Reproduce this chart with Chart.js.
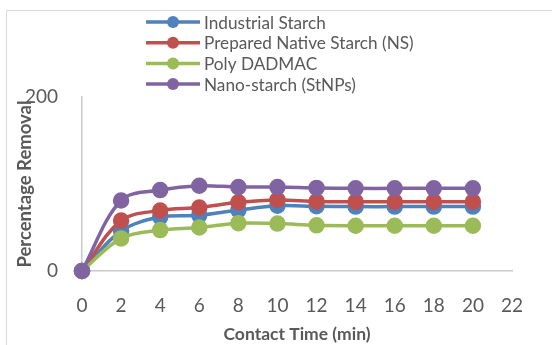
<!DOCTYPE html>
<html>
<head>
<meta charset="utf-8">
<script src="https://cdn.jsdelivr.net/npm/chart.js@4.4.1/dist/chart.umd.min.js"></script>
<style>
  html, body { margin: 0; padding: 0; background: #ffffff; }
  #wrap { width: 552px; height: 345px; position: relative; }
</style>
</head>
<body>
<div id="wrap"><canvas id="c" width="552" height="345"></canvas></div>
<script>
// Contact time (min)
const times = [0, 2, 4, 6, 8, 10, 12, 14, 16, 18, 20];
// Percentage removal per adsorbent
const industrialStarch = [0, 46, 62, 64, 70, 75, 74.4, 74, 74, 74, 74];
const nativeStarch     = [0, 58, 69.5, 73, 79, 81.7, 80, 79.7, 79.7, 79.7, 79.7];
const polyDadmac       = [0, 37.5, 47, 50, 55, 54.5, 52.5, 52, 52, 52, 52];
const nanoStarch       = [0, 81, 93, 98, 96.5, 96.5, 95.5, 95, 95, 95, 95];
const seriesNames = ['Industrial Starch', 'Prepared Native Starch (NS)', 'Poly DADMAC', 'Nano-starch (StNPs)'];
const yTicks = [0, 200];

const colors = ['#4F81BD', '#C0504D', '#9BBB59', '#8064A2'];
const drawOrder = [3, 2, 1, 0]; // later series are painted on top
const textColor = '#595959';
const fontFamily = 'Lato, "Open Sans", sans-serif';

const toPoints = arr => arr.map((v, i) => ({ x: times[i], y: v }));
const allSeries = [industrialStarch, nativeStarch, polyDadmac, nanoStarch];

const datasets = allSeries.map((s, i) => ({
  label: seriesNames[i],
  data: toPoints(s),
  borderColor: colors[i],
  backgroundColor: colors[i],
  pointBackgroundColor: colors[i],
  pointBorderColor: colors[i],
  borderWidth: 3.5,
  pointRadius: 6.5,
  pointHoverRadius: 6.5,
  tension: 0.35,
  clip: false,
  order: drawOrder[i]
}));

// Outer frame around the chart
const framePlugin = {
  id: 'frame',
  beforeDraw(chart) {
    const ctx = chart.ctx;
    ctx.save();
    ctx.strokeStyle = '#d9d9d9';
    ctx.lineWidth = 1;
    ctx.strokeRect(6.5, 10.5, chart.width + 10, chart.height + 10);
    ctx.restore();
  }
};

// Stacked legend: line with marker, then the series name
const lineLegend = {
  id: 'lineLegend',
  afterDraw(chart) {
    const ctx = chart.ctx;
    ctx.save();
    const x0 = 146, lineLen = 54, y0 = 22, rowH = 20.7;
    chart.data.datasets.forEach((ds, i) => {
      const y = y0 + i * rowH;
      ctx.strokeStyle = ds.borderColor;
      ctx.lineWidth = 3.5;
      ctx.beginPath();
      ctx.moveTo(x0, y);
      ctx.lineTo(x0 + lineLen, y);
      ctx.stroke();
      ctx.fillStyle = ds.borderColor;
      ctx.beginPath();
      ctx.arc(x0 + lineLen / 2, y, 6, 0, Math.PI * 2);
      ctx.fill();
      ctx.fillStyle = textColor;
      ctx.font = '17.2px ' + fontFamily;
      ctx.textBaseline = 'middle';
      ctx.textAlign = 'left';
      ctx.fillText(ds.label, x0 + lineLen + 4, y + 1);
    });
    ctx.restore();
  }
};

new Chart(document.getElementById('c'), {
  type: 'line',
  data: { datasets },
  options: {
    responsive: false,
    animation: false,
    events: [],
    layout: { padding: { top: 97, right: 40, bottom: 0, left: 9 } },
    plugins: {
      legend: { display: false },
      tooltip: { enabled: false }
    },
    scales: {
      x: {
        type: 'linear',
        min: 0,
        max: 22,
        ticks: {
          stepSize: 2,
          padding: 23,
          color: textColor,
          font: { family: fontFamily, size: 19 }
        },
        grid: { display: false, drawTicks: false, tickLength: 0 },
        border: { display: true, color: '#c9c9c9', width: 1.5 },
        title: {
          display: true,
          text: 'Contact Time (min)',
          color: textColor,
          font: { family: fontFamily, size: 17.5, weight: 'bold' },
          padding: { top: 0, bottom: 0 }
        },
        afterFit(scale) { scale.height = 74; }
      },
      y: {
        min: 0,
        max: 200,
        afterBuildTicks(scale) { scale.ticks = yTicks.map(v => ({ value: v })); },
        ticks: {
          padding: 24,
          color: textColor,
          font: { family: fontFamily, size: 19 }
        },
        grid: { display: false, drawTicks: false, tickLength: 0 },
        border: { display: true, color: '#c9c9c9', width: 1.5 },
        title: {
          display: true,
          text: 'Percentage Removal',
          color: textColor,
          font: { family: fontFamily, size: 18.5, weight: 'bold' },
          padding: { top: 5, bottom: 0 }
        },
        afterFit(scale) { scale.width = 73; }
      }
    }
  },
  plugins: [framePlugin, lineLegend]
});
</script>
</body>
</html>
